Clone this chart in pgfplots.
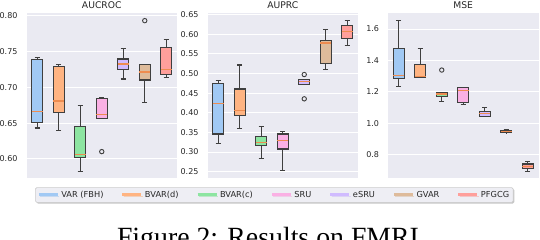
\documentclass[border=0pt]{standalone}
\usepackage{pgfplots}
\pgfplotsset{compat=1.18}
\usepgfplotslibrary{statistics}
\usetikzlibrary{shadows}
\usepackage{fontspec}
\setmainfont{DejaVu Sans}
\newfontfamily\capfont{Liberation Serif}
\definecolor{bgc}{HTML}{EAEAF2}
\definecolor{edgec}{HTML}{3F3F3F}
\definecolor{medc}{HTML}{EE8C50}
\definecolor{legbg}{HTML}{EEEEF4}
\definecolor{legedge}{HTML}{CCCCCC}
\definecolor{cA}{HTML}{A1C9F4}
\definecolor{cB}{HTML}{FFB482}
\definecolor{cC}{HTML}{8DE5A1}
\definecolor{cD}{HTML}{FAB0E4}
\definecolor{cE}{HTML}{D0BBFF}
\definecolor{cF}{HTML}{DEBB9B}
\definecolor{cG}{HTML}{FF9F9B}
\pgfplotsset{
  panel/.style={
    scale only axis, width=150.5pt, height=164.5pt,
    xmin=0.5, xmax=7.5, xtick=\empty,
    ymajorgrids, grid style={white, line width=1pt},
    axis background/.style={fill=bgc},
    axis line style={draw=none},
    major tick length=0pt,
    /pgf/number format/assume math mode=true,
    tick label style={font=\fontsize{8}{9}\selectfont, text=black!85},
    yticklabel style={xshift=-5.5pt},
    title style={font=\fontsize{9.2}{10}\selectfont, text=black!85, yshift=-4.5pt},
    boxplot/draw direction=y,
    boxplot/box extend=0.5,
    boxplot/whisker extend=0.25,
    boxplot/every median/.style={draw=medc, line width=1.3pt},
    anchor=north west,
  },
  bx/.style={fill=#1, draw=edgec, line width=1.1pt, forget plot, mark=o, mark size=2.2pt,
    mark options={draw=edgec, fill=none, line width=0.9pt, solid}},
}
\begin{document}
\begin{tikzpicture}
% ---------------- AUCROC ----------------
\begin{axis}[panel, at={(26.5pt,-13.5pt)}, title={AUCROC},
  ymin=0.5734, ymax=0.8035, ytick={0.60,0.65,0.70,0.75,0.80},
  yticklabel style={/pgf/number format/.cd, fixed, fixed zerofill, precision=2}]
\addplot[bx=cA, boxplot prepared={draw direction=y, draw position=1, lower whisker=0.6434, lower quartile=0.6509, median=0.6667, upper quartile=0.7394, upper whisker=0.7417}] coordinates {};
\addplot[bx=cB, boxplot prepared={draw direction=y, draw position=2, lower whisker=0.6402, lower quartile=0.6653, median=0.6812, upper quartile=0.7292, upper whisker=0.7324}] coordinates {};
\addplot[bx=cC, boxplot prepared={draw direction=y, draw position=3, lower whisker=0.5819, lower quartile=0.6020, median=0.6066, upper quartile=0.6453, upper whisker=0.6751}] coordinates {};
\addplot[bx=cD, boxplot prepared={draw direction=y, draw position=4, lower whisker=0.6560, lower quartile=0.6560, median=0.6625, upper quartile=0.6840, upper whisker=0.6858}] coordinates {(0,0.6103)};
\addplot[bx=cE, boxplot prepared={draw direction=y, draw position=5, lower whisker=0.7119, lower quartile=0.7250, median=0.7329, upper quartile=0.7399, upper whisker=0.7548}] coordinates {};
\addplot[bx=cF, boxplot prepared={draw direction=y, draw position=6, lower whisker=0.6784, lower quartile=0.7105, median=0.7217, upper quartile=0.7324, upper whisker=0.7324}] coordinates {(0,0.7935)};
\addplot[bx=cG, boxplot prepared={draw direction=y, draw position=7, lower whisker=0.7138, lower quartile=0.7180, median=0.7254, upper quartile=0.7557, upper whisker=0.7674}] coordinates {};
\end{axis}
% ---------------- AUPRC ----------------
\begin{axis}[panel, at={(207.5pt,-13.5pt)}, title={AUPRC},
  ymin=0.234, ymax=0.6525, ytick={0.25,0.30,0.35,0.40,0.45,0.50,0.55,0.60,0.65},
  yticklabel style={/pgf/number format/.cd, fixed, fixed zerofill, precision=2},
  legend style={at={(-1.146,-0.0565)}, anchor=north west, legend columns=7,
    draw=legedge, fill=legbg, rounded corners=1.5pt, line width=0.6pt,
    font=\fontsize{8.25}{9}\selectfont, text=black!85,
    inner xsep=2pt, inner ysep=1.5pt,
    drop shadow={shadow xshift=1.2pt, shadow yshift=-1.2pt, opacity=0.45},
    /tikz/every even column/.append style={column sep=15.5pt}},
  legend image code/.code={\draw[#1, line width=3pt] (0pt,0pt) -- (19pt,0pt);},
  legend cell align=left]
\addplot[bx=cA, boxplot prepared={draw direction=y, draw position=1, lower whisker=0.321, lower quartile=0.346, median=0.4229, upper quartile=0.4747, upper whisker=0.4813}] coordinates {};
\addplot[bx=cB, boxplot prepared={draw direction=y, draw position=2, lower whisker=0.3594, lower quartile=0.392, median=0.4062, upper quartile=0.4605, upper whisker=0.5214}] coordinates {};
\addplot[bx=cC, boxplot prepared={draw direction=y, draw position=3, lower whisker=0.2826, lower quartile=0.316, median=0.3243, upper quartile=0.3394, upper whisker=0.3644}] coordinates {};
\addplot[bx=cD, boxplot prepared={draw direction=y, draw position=4, lower whisker=0.2542, lower quartile=0.3077, median=0.3294, upper quartile=0.346, upper whisker=0.3519}] coordinates {};
\addplot[bx=cE, boxplot prepared={draw direction=y, draw position=5, lower whisker=0.473, lower quartile=0.473, median=0.4788, upper quartile=0.4838, upper whisker=0.4838}] coordinates {(0,0.4972) (0,0.4354)};
\addplot[bx=cF, boxplot prepared={draw direction=y, draw position=6, lower whisker=0.5106, lower quartile=0.5256, median=0.5774, upper quartile=0.584, upper whisker=0.6124}] coordinates {};
\addplot[bx=cG, boxplot prepared={draw direction=y, draw position=7, lower whisker=0.5715, lower quartile=0.5899, median=0.6066, upper quartile=0.6224, upper whisker=0.6341}] coordinates {};
\addlegendimage{cA}\addlegendentry{VAR (FBH)}
\addlegendimage{cB}\addlegendentry{BVAR(d)}
\addlegendimage{cC}\addlegendentry{BVAR(c)}
\addlegendimage{cD}\addlegendentry{SRU}
\addlegendimage{cE}\addlegendentry{eSRU}
\addlegendimage{cF}\addlegendentry{GVAR}
\addlegendimage{cG}\addlegendentry{PFGCG}
\end{axis}
% ---------------- MSE ----------------
\begin{axis}[panel, at={(388pt,-13.5pt)}, title={MSE},
  ymin=0.652, ymax=1.699, ytick={0.8,1.0,1.2,1.4,1.6},
  yticklabel style={/pgf/number format/.cd, fixed, fixed zerofill, precision=1}]
\addplot[bx=cA, boxplot prepared={draw direction=y, draw position=1, lower whisker=1.2358, lower quartile=1.2843, median=1.3032, upper quartile=1.4737, upper whisker=1.6526}] coordinates {};
\addplot[bx=cB, boxplot prepared={draw direction=y, draw position=2, lower whisker=1.2927, lower quartile=1.2927, median=1.299, upper quartile=1.3769, upper whisker=1.4779}] coordinates {};
\addplot[bx=cC, boxplot prepared={draw direction=y, draw position=3, lower whisker=1.139, lower quartile=1.1727, median=1.1874, upper quartile=1.198, upper whisker=1.198}] coordinates {(0,1.339)};
\addplot[bx=cD, boxplot prepared={draw direction=y, draw position=4, lower whisker=1.12, lower quartile=1.1327, median=1.2085, upper quartile=1.2295, upper whisker=1.2295}] coordinates {};
\addplot[bx=cE, boxplot prepared={draw direction=y, draw position=5, lower whisker=1.0443, lower quartile=1.0443, median=1.0632, upper quartile=1.078, upper whisker=1.1032}] coordinates {};
\addplot[bx=cF, boxplot prepared={draw direction=y, draw position=6, lower whisker=0.939, lower quartile=0.941, median=0.9475, upper quartile=0.956, upper whisker=0.958}] coordinates {};
\addplot[bx=cG, boxplot prepared={draw direction=y, draw position=7, lower whisker=0.6949, lower quartile=0.7138, median=0.7243, upper quartile=0.741, upper whisker=0.758}] coordinates {};
\end{axis}
\node[anchor=base, font=\capfont\fontsize{27.8}{30}\selectfont, inner sep=0pt] at (268pt,-246pt) {Figure 2: Results on FMRI};
\pgfresetboundingbox
\useasboundingbox (0pt,0pt) rectangle (540pt,-240pt);
\end{tikzpicture}
\end{document}
